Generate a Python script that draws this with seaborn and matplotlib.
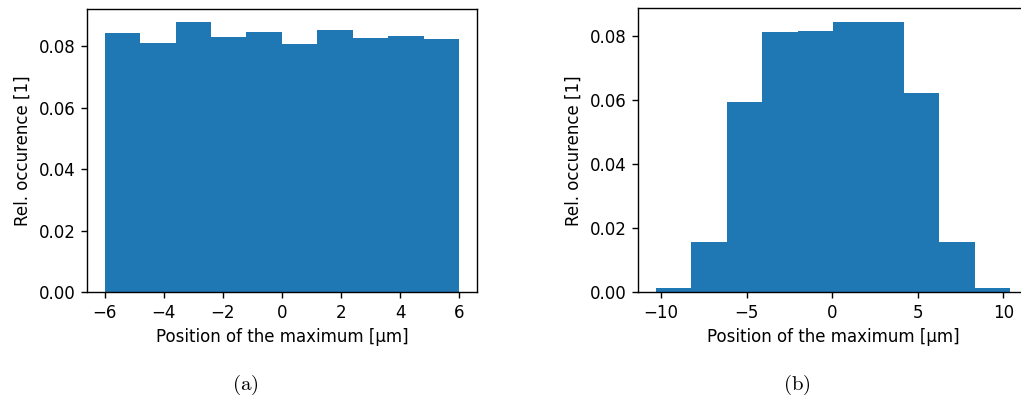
import numpy as np
import pandas as pd
import matplotlib
matplotlib.use("Agg")
import matplotlib.pyplot as plt
import seaborn as sns

# Panel (a): uniform distribution, density histogram
edges_a = np.linspace(-6.0, 6.0, 11)
density_a = [0.0841, 0.0809, 0.0877, 0.0828, 0.0844, 0.0805, 0.0851, 0.0825, 0.0831, 0.0822]

# Panel (b): wider, bell-shaped distribution
edges_b = np.linspace(-10.3, 10.4, 11)
density_b = [0.00125, 0.0156, 0.0594, 0.0813, 0.0816, 0.0844, 0.0844, 0.0622, 0.0156, 0.00125]

xlabel = "Position of the maximum [µm]"
ylabel = "Rel. occurence [1]"
captions = ["(a)", "(b)"]

plt.rcParams["font.family"] = ["DejaVu Sans"]
plt.rcParams["mathtext.fontset"] = "cm"
plt.rcParams["font.size"] = 12

fig = plt.figure(figsize=(10.21, 4.03), dpi=100)
ax_a = fig.add_axes([0.0852, 0.2754, 0.3818, 0.7026])
ax_b = fig.add_axes([0.6252, 0.2754, 0.3816, 0.7036])

for ax, edges, dens in [(ax_a, edges_a, density_a), (ax_b, edges_b, density_b)]:
    centers = (edges[:-1] + edges[1:]) / 2
    df = pd.DataFrame({"pos": centers, "w": dens})
    sns.histplot(data=df, x="pos", weights="w", bins=list(edges), stat="count", ax=ax,
                 color="#1f77b4", alpha=1.0, linewidth=0, edgecolor="none")
    ax.set_xlabel(xlabel, fontsize=12, labelpad=4.8)
    ax.set_ylabel(ylabel, fontsize=12, labelpad=4.8)
    ax.tick_params(labelsize=12, length=4.2, width=1.0, pad=4.2)
    for sp in ax.spines.values():
        sp.set_linewidth(1.0)
    ax.set_xlim(edges[0] - 0.05 * (edges[-1] - edges[0]), edges[-1] + 0.05 * (edges[-1] - edges[0]))
    ax.set_ylim(0, max(dens) * 1.05)
    ax.set_yticks([0.0, 0.02, 0.04, 0.06, 0.08])

ax_a.set_xticks([-6, -4, -2, 0, 2, 4, 6])
ax_b.set_xticks([-10, -5, 0, 5, 10])

fig.text(0.2405, 0.045, r"$\mathrm{" + captions[0] + "}$", ha="center", va="center", fontsize=15)
fig.text(0.7805, 0.045, r"$\mathrm{" + captions[1] + "}$", ha="center", va="center", fontsize=15)

fig.savefig("out.png", dpi=100)
